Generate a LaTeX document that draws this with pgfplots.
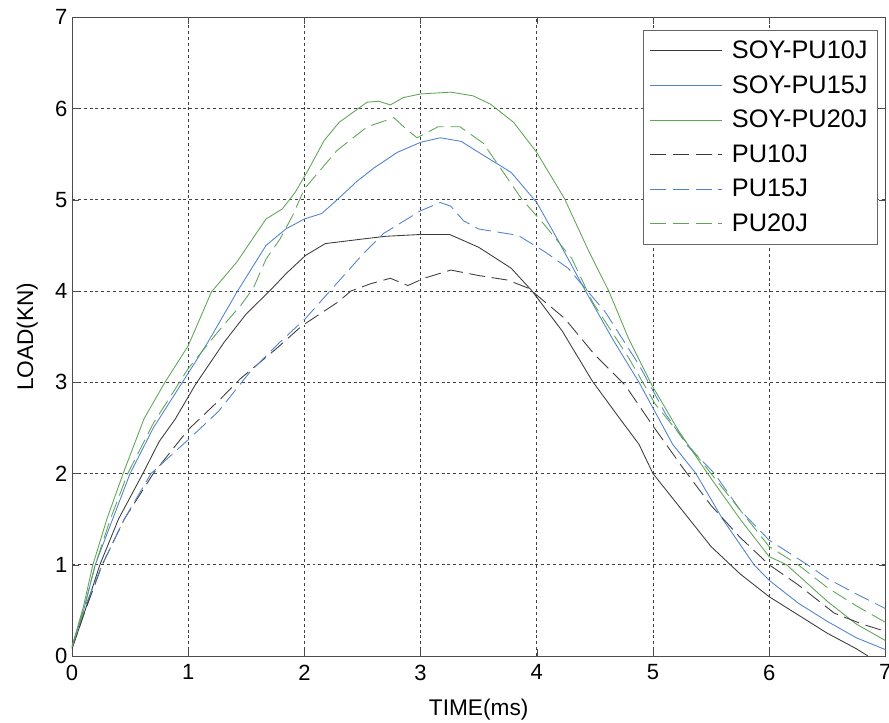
\documentclass[border=0pt]{standalone}
\usepackage{fontspec}
\setmainfont{Liberation Sans}
\usepackage{pgfplots}
\pgfplotsset{compat=1.18}
\definecolor{cblk}{RGB}{60,60,60}
\definecolor{cblu}{RGB}{80,130,205}
\definecolor{cgrn}{RGB}{95,165,85}
\begin{document}
\begin{tikzpicture}
\begin{axis}[
  scale only axis, width=610pt, height=479pt,
  xmin=0, xmax=7, ymin=0, ymax=7,
  xtick={0,1,...,7}, ytick={0,1,...,7},
  tick align=inside, major tick length=5pt,
  grid=major,
  major grid style={dash pattern=on 2.2pt off 2.2pt, black!75, line width=0.5pt},
  axis line style={black!70, line width=0.6pt},
  tick style={black!70},
  /pgf/number format/assume math mode=true,
  ticklabel style={font=\fontsize{16.5}{19}\selectfont},
  xticklabel style={yshift=-3pt},
  xlabel={TIME(ms)}, ylabel={LOAD(KN)},
  label style={font=\fontsize{17}{20}\selectfont},
  xlabel style={yshift=-7pt},
  ylabel style={yshift=6pt},
  legend style={at={(rel axis cs:0.99,0.98)}, anchor=north east, draw=black!60,
    font=\fontsize{19}{22}\selectfont, cells={anchor=west}, row sep=7.2pt,
    inner xsep=5pt, inner ysep=6pt,
    /tikz/every odd column/.append style={column sep=5pt}},
  legend image code/.code={\draw[#1] (0pt,0pt) -- (54pt,0pt);},
  every axis plot/.append style={line width=0.65pt},
]
\addplot[cblk] coordinates {(0,0.08)(0.1,0.45)(0.24,1.0)(0.4,1.5)(0.61,2.0)(0.75,2.35)(0.89,2.6)(1.06,2.97)(1.31,3.44)(1.5,3.75)(1.7,4.0)(1.85,4.2)(2.01,4.39)(2.18,4.52)(2.5,4.57)(2.7,4.6)(3.0,4.62)(3.25,4.62)(3.5,4.48)(3.78,4.25)(3.96,4.0)(4.22,3.56)(4.48,3.01)(4.71,2.61)(4.88,2.32)(5.0,2.0)(5.25,1.6)(5.5,1.2)(5.75,0.9)(6.0,0.65)(6.25,0.45)(6.5,0.25)(6.75,0.08)(6.85,0)};
\addlegendentry{SOY-PU10J}
\addplot[cblu] coordinates {(0,0.1)(0.1,0.5)(0.2,1.0)(0.35,1.5)(0.5,2.0)(0.7,2.5)(0.95,3.0)(1.17,3.44)(1.42,3.99)(1.67,4.5)(1.84,4.68)(2.0,4.79)(2.15,4.85)(2.29,5.01)(2.45,5.2)(2.6,5.35)(2.8,5.52)(3.0,5.63)(3.17,5.68)(3.35,5.64)(3.5,5.52)(3.78,5.3)(4.0,4.97)(4.19,4.54)(4.42,4.0)(4.65,3.48)(4.88,3.0)(5.17,2.32)(5.37,2.0)(5.6,1.5)(5.87,1.0)(6.0,0.83)(6.25,0.58)(6.5,0.38)(6.75,0.2)(7.0,0.07)};
\addlegendentry{SOY-PU15J}
\addplot[cgrn] coordinates {(0,0.1)(0.1,0.55)(0.18,1.0)(0.3,1.5)(0.44,2.0)(0.62,2.6)(0.8,3.0)(1.0,3.4)(1.2,3.99)(1.42,4.32)(1.67,4.79)(1.81,4.9)(1.92,5.08)(2.03,5.32)(2.17,5.65)(2.3,5.85)(2.54,6.07)(2.64,6.08)(2.74,6.04)(2.85,6.12)(3.0,6.16)(3.26,6.18)(3.45,6.14)(3.6,6.05)(3.8,5.85)(4.0,5.52)(4.24,5.01)(4.45,4.43)(4.62,4.0)(4.79,3.48)(4.99,2.97)(5.22,2.47)(5.47,2.0)(5.75,1.5)(6.0,1.09)(6.15,1.0)(6.5,0.6)(6.75,0.35)(7.0,0.17)};
\addlegendentry{SOY-PU20J}
\addplot[cblk, dash pattern=on 12pt off 5pt] coordinates {(0,0.08)(0.1,0.45)(0.26,1.0)(0.45,1.5)(0.7,2.0)(1.0,2.48)(1.28,2.82)(1.45,3.04)(1.76,3.37)(1.98,3.62)(2.29,3.88)(2.4,4.0)(2.57,4.08)(2.74,4.14)(2.89,4.06)(3.03,4.14)(3.26,4.23)(3.5,4.17)(3.75,4.12)(3.93,4.03)(4.24,3.7)(4.5,3.3)(4.76,2.97)(4.99,2.54)(5.27,2.04)(5.5,1.65)(5.75,1.3)(6.0,1.0)(6.25,0.78)(6.56,0.47)(6.8,0.35)(7.0,0.27)};
\addlegendentry{PU10J}
\addplot[cblu, dash pattern=on 12pt off 5pt] coordinates {(0,0.1)(0.1,0.5)(0.26,1.0)(0.45,1.5)(0.68,2.0)(1.0,2.37)(1.26,2.68)(1.53,3.11)(1.79,3.44)(2.01,3.7)(2.29,4.1)(2.5,4.4)(2.68,4.63)(3.0,4.88)(3.17,4.97)(3.26,4.93)(3.37,4.77)(3.5,4.68)(3.84,4.61)(4.07,4.43)(4.27,4.25)(4.59,3.77)(4.88,3.19)(5.11,2.65)(5.3,2.3)(5.53,2.0)(5.75,1.6)(6.0,1.27)(6.33,1.0)(6.5,0.85)(6.75,0.68)(7.0,0.52)};
\addlegendentry{PU15J}
\addplot[cgrn, dash pattern=on 12pt off 5pt] coordinates {(0,0.1)(0.1,0.5)(0.2,1.0)(0.33,1.5)(0.48,2.0)(0.7,2.55)(1.0,3.15)(1.28,3.59)(1.45,3.84)(1.56,4.03)(1.67,4.35)(1.79,4.57)(1.9,4.83)(2.0,5.12)(2.12,5.3)(2.28,5.54)(2.54,5.8)(2.77,5.9)(2.89,5.76)(2.97,5.68)(3.15,5.8)(3.34,5.8)(3.54,5.62)(3.87,5.01)(4.07,4.72)(4.3,4.36)(4.48,3.88)(4.79,3.27)(5.02,2.76)(5.25,2.4)(5.5,2.0)(5.75,1.6)(6.0,1.2)(6.25,1.0)(6.5,0.75)(6.75,0.55)(7.0,0.37)};
\addlegendentry{PU20J}
\end{axis}
\pgfresetboundingbox
\path (current axis.south west) ++(-54pt,-50.25pt) rectangle ++(666.75pt,542.25pt);
\end{tikzpicture}
\end{document}
